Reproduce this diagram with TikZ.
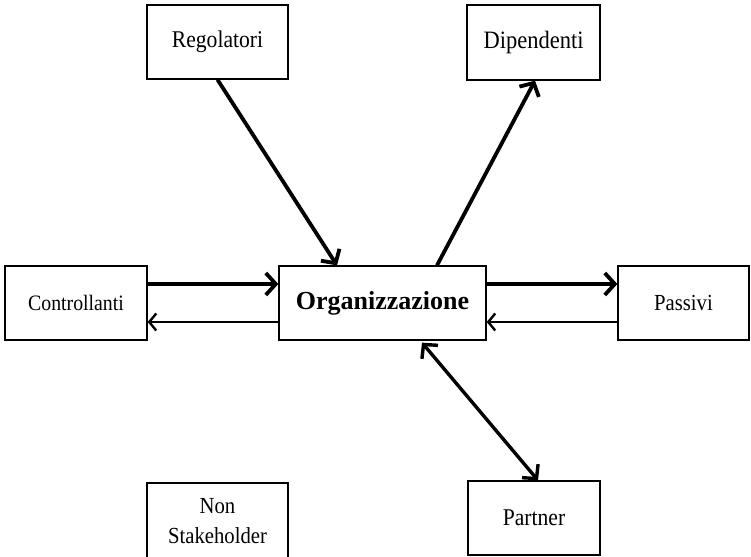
\documentclass[tikz,border=0pt]{standalone}
\usepackage{fontspec}
\setmainfont{Liberation Serif}[FakeStretch=0.9,BoldFeatures={FakeStretch=1}]
\usetikzlibrary{arrows.meta,calc}
\newcommand{\fsz}[1]{\fontsize{#1}{#1}\selectfont}
\begin{document}
\begin{tikzpicture}[x=1pt,y=-1pt,
  box/.style={draw,line width=1.3pt,rectangle,inner sep=0pt,align=center},
  thick arrow/.style={line width=3.8pt,-{Straight Barb[length=10pt,width=22pt,line width=3.8pt]}},
  thin arrow/.style={line width=2.4pt,-{Straight Barb[length=7pt,width=17pt,line width=2.4pt]}},
  both arrow/.style={line width=3.4pt,{Straight Barb[length=10pt,width=21pt,line width=3.4pt]}-{Straight Barb[length=10pt,width=21pt,line width=3.4pt]}}]
\useasboundingbox (0,0) rectangle (751,556);
\node[box,minimum width=141pt,minimum height=74pt,font=\fsz{24}] (reg) at (217.5,42) {Regolatori};
\node[box,minimum width=133pt,minimum height=75pt,font=\fsz{25}] (dip) at (533.5,42.5) {Dipendenti};
\node[box,minimum width=142pt,minimum height=74pt,font=\fsz{22}] (con) at (76,303) {Controllanti};
\node[box,minimum width=207pt,minimum height=74pt,font=\bfseries\fsz{26}] (org) at (382.5,303) {Organizzazione};
\node[box,minimum width=131pt,minimum height=74pt,font=\fsz{23}] (pas) at (683.5,303) {Passivi};
\node[box,minimum width=132pt,minimum height=74pt,font=\fsz{24}] (par) at (534,518) {Partner};
\node[box,minimum width=141pt,minimum height=76pt,font=\fontsize{23}{30}\selectfont] (non) at (217.5,521) {Non\\Stakeholder};
\draw[thick arrow] (reg.south) -- ([xshift=-45.5pt]org.north);
\draw[thick arrow] ([xshift=54.5pt]org.north) -- ([xshift=1.5pt]dip.south);
\draw[thick arrow] ([yshift=19pt]con.east) -- ([yshift=19pt]org.west);
\draw[thin arrow] ([yshift=-19pt]org.west) -- ([yshift=-19pt]con.east);
\draw[thick arrow] ([yshift=19pt]org.east) -- ([yshift=19pt]pas.west);
\draw[thin arrow] ([yshift=-19pt]pas.west) -- ([yshift=-19pt]org.east);
\draw[both arrow] ([xshift=39.5pt,yshift=-2pt]org.south) -- ([xshift=4pt]par.north);
\end{tikzpicture}
\end{document}
